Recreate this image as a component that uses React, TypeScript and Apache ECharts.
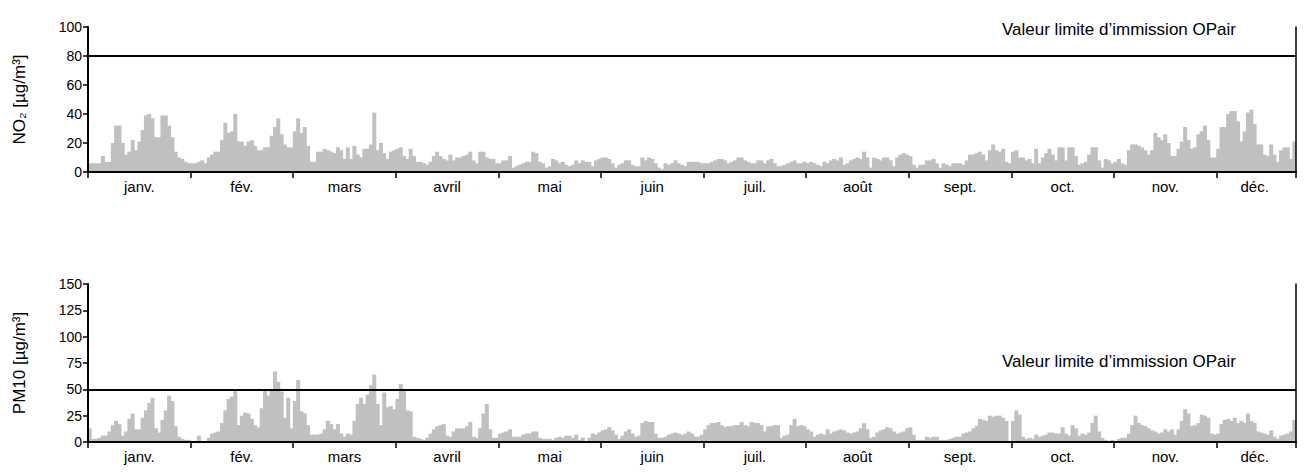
import React, { useEffect, useRef } from "react";
import * as echarts from "echarts";

// ---- Data (daily means, µg/m³) ----
const monthLabels = ["janv.", "fév.", "mars", "avril", "mai", "juin", "juil.", "août", "sept.", "oct.", "nov.", "déc."];
const labelDayIndex = [15, 46, 77, 108, 139, 170, 201, 232, 263, 294, 325, 352];
const tickEveryDays = 31;

const no2Jan = [6,6,6,6,11,7,7,20,32,32,20,12,14,22,15,21,29,39,40,37,24,24,39,39,32,24,14,10,9,7,6];
const no2Feb = [6,6,7,8,6,10,12,14,14,22,34,27,28,40,21,21,18,21,22,18,15,15,17,17,25,31,37,26];
const no2Mar = [19,17,17,28,37,27,31,18,7,7,14,14,16,15,14,13,17,15,9,17,9,18,12,10,16,16,19,41,15,20,13];
const no2Apr = [9,14,15,16,17,11,9,16,11,7,7,6,5,7,11,14,11,9,8,12,8,10,10,11,12,14,8,6,14,14];
const no2May = [10,9,9,6,6,8,8,11,3,4,5,6,7,7,14,13,7,6,3,4,9,8,6,7,5,4,5,8,6,8,7];
const no2Jun = [7,4,8,9,10,10,9,6,3,5,6,8,8,5,4,4,10,8,10,9,6,3,2,6,5,6,8,6,5,4];
const no2Jul = [7,7,7,7,6,6,6,7,8,9,9,8,6,7,8,10,10,8,7,6,6,8,8,6,8,9,6,4,4,5,6];
const no2Aug = [7,8,6,6,7,6,7,6,5,4,7,6,8,9,8,10,5,6,8,9,10,9,14,10,3,10,9,8,10,10,8];
const no2Sep = [4,10,12,13,12,11,5,3,5,5,8,8,9,6,3,6,5,4,6,6,6,5,8,12,12,13,14,12,8,15];
const no2Oct = [19,15,14,16,7,6,14,15,10,10,8,9,6,16,6,10,13,16,12,8,17,17,8,17,17,11,5,6,7,12,17];
const no2Nov = [17,8,3,9,8,6,7,9,6,5,15,19,19,18,17,15,12,15,27,24,22,26,20,11,11,16,21,31,22,16];
const no2Dec = [17,26,28,32,22,10,10,16,31,31,40,42,42,35,21,28,41,43,33,19,19,12,11,19,12,7,15,17,17,9,21];

const pm10Jan = [13,3,3,4,6,6,10,16,20,17,6,10,22,27,12,12,23,30,37,42,13,9,21,30,44,39,15,5,3,2,2];
const pm10Feb = [1,1,6,1,1,4,8,9,10,18,30,41,43,49,16,25,28,27,22,16,14,32,49,44,49,67,57,48];
const pm10Mar = [23,42,13,39,59,29,27,16,7,7,7,8,12,20,17,12,17,8,5,8,7,20,36,42,36,45,54,64,36,16,47];
const pm10Apr = [33,34,31,41,55,49,30,29,5,4,3,2,4,8,12,15,16,17,6,5,10,13,13,13,15,19,5,4,13,27];
const pm10May = [36,12,4,4,8,9,10,12,5,5,5,7,8,8,10,10,4,3,3,3,2,4,5,4,6,6,4,7,2,4,1];
const pm10Jun = [4,8,7,9,11,12,14,11,7,3,6,10,12,8,5,6,18,20,19,19,8,4,4,5,7,8,9,8,7,8];
const pm10Jul = [10,8,5,5,7,12,16,18,18,19,16,14,15,15,16,16,19,16,15,19,18,18,16,10,15,15,16,16,4,6,7];
const pm10Aug = [16,22,15,16,15,12,10,5,7,8,7,12,8,10,11,12,11,9,8,9,10,13,18,12,4,5,9,11,12,14,13];
const pm10Sep = [10,8,9,10,13,14,7,2,2,2,5,4,5,5,2,2,2,3,4,5,5,8,9,10,13,15,22,21,20,25];
const pm10Oct = [24,25,25,23,20,1,20,30,26,5,3,4,3,7,5,6,7,9,9,8,8,14,8,6,16,13,6,8,7,9,18];
const pm10Nov = [25,10,4,2,1,2,1,3,4,4,8,16,25,18,16,15,13,11,10,8,9,12,10,12,7,12,20,31,27,15];
const pm10Dec = [16,18,26,25,23,8,7,8,17,21,22,20,23,18,20,18,27,20,18,10,9,8,7,11,5,3,6,7,8,10,21];

const no2Limit = 80;
const pm10Limit = 50;
const limitText = "Valeur limite d’immission OPair";

const no2 = [...no2Jan, ...no2Feb, ...no2Mar, ...no2Apr, ...no2May, ...no2Jun, ...no2Jul, ...no2Aug, ...no2Sep, ...no2Oct, ...no2Nov, ...no2Dec];
const pm10 = [...pm10Jan, ...pm10Feb, ...pm10Mar, ...pm10Apr, ...pm10May, ...pm10Jun, ...pm10Jul, ...pm10Aug, ...pm10Sep, ...pm10Oct, ...pm10Nov, ...pm10Dec];
const days = no2.map((_, i) => String(i + 1));

const FONT = "Liberation Sans, Arial, sans-serif";
const BAR = "#c0c0c0";

function xAxisFor(gridIndex: number) {
  return {
    type: "category",
    gridIndex,
    data: days,
    boundaryGap: true,
    axisLine: { show: true, lineStyle: { color: "#000", width: 2 } },
    axisTick: {
      show: true,
      interval: (i: number) => i % tickEveryDays === 0,
      length: 6,
      lineStyle: { color: "#000", width: 1.5 },
    },
    axisLabel: {
      show: true,
      interval: (i: number) => labelDayIndex.includes(i),
      formatter: (_v: string, i: number) => monthLabels[labelDayIndex.indexOf(i)] ?? "",
      color: "#000",
      fontFamily: FONT,
      fontSize: 15,
      margin: 7,
    },
    splitLine: { show: false },
    z: 5,
  };
}

function yAxisFor(gridIndex: number, max: number, interval: number, name: string) {
  return {
    type: "value",
    gridIndex,
    min: 0,
    max,
    interval,
    name,
    nameLocation: "middle",
    nameGap: 60,
    nameTextStyle: { color: "#000", fontFamily: FONT, fontSize: 17 },
    axisLine: { show: true, lineStyle: { color: "#000", width: 2 } },
    axisTick: { show: true, length: 5, lineStyle: { color: "#000", width: 1.5 } },
    axisLabel: { color: "#000", fontFamily: FONT, fontSize: 14, margin: 6 },
    splitLine: { show: false },
    z: 5,
  };
}

function rightAxisFor(gridIndex: number, max: number) {
  return {
    type: "value",
    gridIndex,
    position: "right",
    min: 0,
    max,
    axisLine: { show: true, lineStyle: { color: "#000", width: 1.5 } },
    axisTick: { show: false },
    axisLabel: { show: false },
    splitLine: { show: false },
    z: 5,
  };
}

function limitLine(value: number) {
  return {
    silent: true,
    symbol: ["none", "none"],
    label: { show: false },
    lineStyle: { color: "#000", width: 2, type: "solid" },
    data: [{ yAxis: value }],
  };
}

// Daily bars drawn as slightly overlapping rects (same colour) so no seams appear.
function barSeries(axis: number, data: number[], limit: number) {
  return {
    type: "custom",
    xAxisIndex: axis,
    yAxisIndex: axis,
    data: data.map((v, i) => [i, v]),
    encode: { x: 0, y: 1 },
    clip: true,
    renderItem: (_params: any, api: any) => {
      const idx = api.value(0);
      const val = api.value(1);
      const base = api.coord([idx, 0]);
      const top = api.coord([idx, val]);
      const w = api.size([1, 0])[0];
      return {
        type: "rect",
        shape: { x: base[0] - w / 2 - 0.35, y: top[1], width: w + 0.7, height: base[1] - top[1] },
        style: { fill: BAR },
      };
    },
    markLine: limitLine(limit),
    z: 1,
  };
}

export default function App() {
  const ref = useRef<HTMLDivElement>(null);
  useEffect(() => {
    document.body.style.margin = "0";
    const chart = echarts.init(ref.current!, null, { renderer: "svg" });
    chart.setOption({
      animation: false,
      backgroundColor: "#fff",
      grid: [
        { left: 88, right: 10, top: 27, height: 145 },
        { left: 88, right: 10, top: 284, height: 158 },
      ],
      xAxis: [xAxisFor(0), xAxisFor(1)],
      yAxis: [
        yAxisFor(0, 100, 20, "NO₂ [µg/m³]"),
        yAxisFor(1, 150, 25, "PM10 [µg/m³]"),
        rightAxisFor(0, 100),
        rightAxisFor(1, 150),
      ],
      series: [barSeries(0, no2, no2Limit), barSeries(1, pm10, pm10Limit)],
      graphic: [
        {
          type: "text",
          left: 1002,
          top: 21,
          style: { text: limitText, fill: "#000", font: `17px ${FONT}` },
        },
        {
          type: "text",
          left: 1002,
          top: 353,
          style: { text: limitText, fill: "#000", font: `17px ${FONT}` },
        },
      ],
    });
    return () => chart.dispose();
  }, []);
  return <div ref={ref} style={{ position: "absolute", left: 0, top: 0, width: 1306, height: 473 }} />;
}
